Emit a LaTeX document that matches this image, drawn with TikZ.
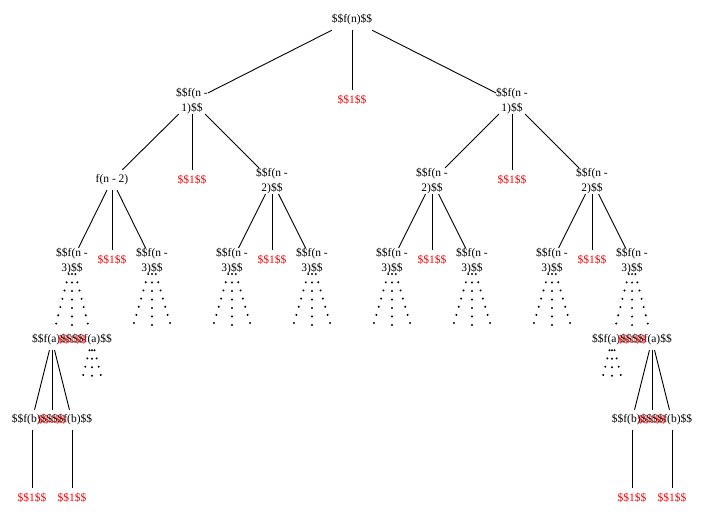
\documentclass[tikz,border=0pt]{standalone}
\usepackage{fontspec}
\setmainfont{Liberation Serif}
\begin{document}
\begin{tikzpicture}[x=1pt,y=-1pt,
  every node/.style={font=\fontsize{11.5}{15}\selectfont, inner sep=0pt, align=center, text=black},
  fnode/.style={minimum height=20pt},
  twonode/.style={},
  onenode/.style={minimum height=20pt, text=red},
  edge/.style={draw=black, line width=0.9pt},
  dotline/.style={draw=black, line width=2.2pt, line cap=round, dash pattern=on 0pt off 8.5pt}]
\useasboundingbox (0,0) rectangle (703,521);
% black nodes
\node[fnode] (r) at (352,20) {\$\$f(n)\$\$};
\node[twonode] (a) at (192,101) {\$\$f(n -\\1)\$\$};
\node[twonode] (b) at (512,101) {\$\$f(n -\\1)\$\$};
\node[fnode] (aa) at (112,180) {f(n - 2)};
\node[twonode] (ab) at (272,181) {\$\$f(n -\\2)\$\$};
\node[twonode] (ba) at (432,181) {\$\$f(n -\\2)\$\$};
\node[twonode] (bb) at (592,181) {\$\$f(n -\\2)\$\$};
\node[twonode] (aaa) at (72,261) {\$\$f(n -\\3)\$\$};
\node[twonode] (aab) at (152,261) {\$\$f(n -\\3)\$\$};
\node[twonode] (aba) at (232,261) {\$\$f(n -\\3)\$\$};
\node[twonode] (abb) at (312,261) {\$\$f(n -\\3)\$\$};
\node[twonode] (baa) at (392,261) {\$\$f(n -\\3)\$\$};
\node[twonode] (bab) at (472,261) {\$\$f(n -\\3)\$\$};
\node[twonode] (bba) at (552,261) {\$\$f(n -\\3)\$\$};
\node[twonode] (bbb) at (632,261) {\$\$f(n -\\3)\$\$};
\node[fnode] (aaaa) at (52,340) {\$\$f(a)\$\$};
\node[fnode] (aaab) at (92,340) {\$\$f(a)\$\$};
\node[fnode] (bbba) at (612,340) {\$\$f(a)\$\$};
\node[fnode] (bbbb) at (652,340) {\$\$f(a)\$\$};
\node[fnode] (la) at (32,420) {\$\$f(b)\$\$};
\node[fnode] (lb) at (72,420) {\$\$f(b)\$\$};
\node[fnode] (ra) at (632,420) {\$\$f(b)\$\$};
\node[fnode] (rb) at (672,420) {\$\$f(b)\$\$};
% red nodes
\node[onenode] (r1) at (352,100) {\$\$1\$\$};
\node[onenode] (ar) at (192,180) {\$\$1\$\$};
\node[onenode] (br) at (512,180) {\$\$1\$\$};
\node[onenode] (aar) at (112,260) {\$\$1\$\$};
\node[onenode] (abr) at (272,260) {\$\$1\$\$};
\node[onenode] (bar) at (432,260) {\$\$1\$\$};
\node[onenode] (bbr) at (592,260) {\$\$1\$\$};
\node[onenode] (aaar) at (72,340) {\$\$1\$\$};
\node[onenode] (bbbr) at (632,340) {\$\$1\$\$};
\node[onenode] (lr) at (52,420) {\$\$1\$\$};
\node[onenode] (rr) at (652,420) {\$\$1\$\$};
\node[onenode] (la1) at (32,498) {\$\$1\$\$};
\node[onenode] (lb1) at (72,498) {\$\$1\$\$};
\node[onenode] (ra1) at (632,498) {\$\$1\$\$};
\node[onenode] (rb1) at (672,498) {\$\$1\$\$};
% free ends of dotted branches
\foreach \n/\x in {aab/152, aba/232, abb/312, baa/392, bab/472, bba/552} {
  \coordinate (\n-l) at (\x-20,330);
  \coordinate (\n-m) at (\x,332);
  \coordinate (\n-r) at (\x+20,330);
}
\coordinate (aaab-l) at (82,380);
\coordinate (aaab-m) at (92,383);
\coordinate (aaab-r) at (102,380);
\coordinate (bbba-l) at (602,380);
\coordinate (bbba-m) at (612,383);
\coordinate (bbba-r) at (622,380);
% solid edges
\draw[edge] (r) -- (a); \draw[edge] (r) -- (r1); \draw[edge] (r) -- (b);
\draw[edge] (a) -- (aa); \draw[edge] (a) -- (ar); \draw[edge] (a) -- (ab);
\draw[edge] (b) -- (ba); \draw[edge] (b) -- (br); \draw[edge] (b) -- (bb);
\draw[edge] (aa) -- (aaa); \draw[edge] (aa) -- (aar); \draw[edge] (aa) -- (aab);
\draw[edge] (ab) -- (aba); \draw[edge] (ab) -- (abr); \draw[edge] (ab) -- (abb);
\draw[edge] (ba) -- (baa); \draw[edge] (ba) -- (bar); \draw[edge] (ba) -- (bab);
\draw[edge] (bb) -- (bba); \draw[edge] (bb) -- (bbr); \draw[edge] (bb) -- (bbb);
\draw[edge] (aaaa) -- (la); \draw[edge] (aaaa) -- (lr); \draw[edge] (aaaa) -- (lb);
\draw[edge] (la) -- (la1); \draw[edge] (lb) -- (lb1);
\draw[edge] (bbbb) -- (ra); \draw[edge] (bbbb) -- (rr); \draw[edge] (bbbb) -- (rb);
\draw[edge] (ra) -- (ra1); \draw[edge] (rb) -- (rb1);
% dotted edges
\draw[dotline] (aaa) -- (aaaa); \draw[dotline] (aaa) -- (aaar); \draw[dotline] (aaa) -- (aaab);
\draw[dotline] (bbb) -- (bbba); \draw[dotline] (bbb) -- (bbbr); \draw[dotline] (bbb) -- (bbbb);
\foreach \n in {aab, aba, abb, baa, bab, bba, aaab, bbba} {
  \draw[dotline] (\n) -- (\n-l);
  \draw[dotline] (\n) -- (\n-m);
  \draw[dotline] (\n) -- (\n-r);
}
\end{tikzpicture}
\end{document}
